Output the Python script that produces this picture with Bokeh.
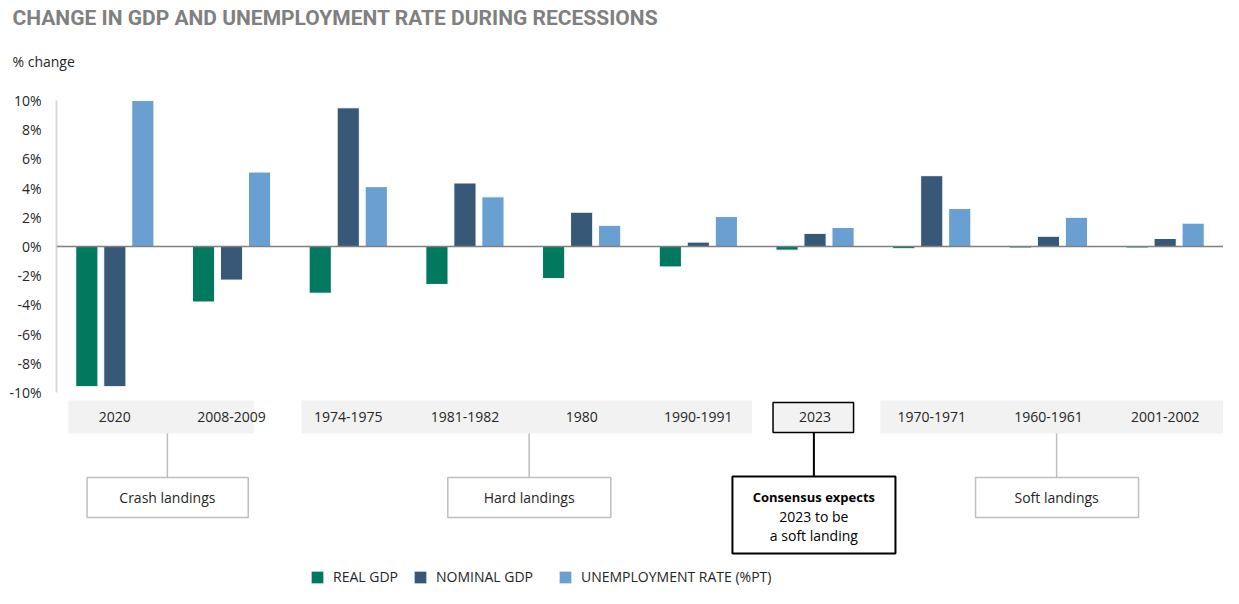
from bokeh.plotting import figure
from bokeh.models import (ColumnDataSource, Range1d, FixedTicker, PrintfTickFormatter,
                          Span, Legend, LegendItem, Title)
from bokeh.transform import dodge
from bokeh.core.properties import value
from bokeh.embed import file_html
from bokeh.resources import INLINE

# ---------------- data ----------------
categories = ["2020", "2008-2009", "1974-1975", "1981-1982", "1980",
              "1990-1991", "2023", "1970-1971", "1960-1961", "2001-2002"]
real_gdp = [-9.6, -3.8, -3.2, -2.6, -2.2, -1.4, -0.25, -0.15, -0.1, -0.1]
nominal_gdp = [-9.6, -2.3, 9.5, 4.35, 2.35, 0.3, 0.9, 4.85, 0.7, 0.55]
unemployment = [10.0, 5.1, 4.1, 3.4, 1.45, 2.05, 1.3, 2.6, 2.0, 1.6]
series_labels = ["REAL GDP", "NOMINAL GDP", "UNEMPLOYMENT RATE (%PT)"]
y_ticks = [-10, -8, -6, -4, -2, 0, 2, 4, 6, 8, 10]
group_labels = ["Crash landings", "Hard landings", "Soft landings"]
note_lines = ["Consensus expects", "2023 to be", "a soft landing"]

TITLE = "CHANGE IN GDP AND UNEMPLOYMENT RATE DURING RECESSIONS"
Y_LABEL = "% change"

# ---------------- style ----------------
GREEN = "#00795F"
NAVY = "#375877"
LIGHT = "#6A9FD2"
FONT = "Open Sans"
TXT = "#262626"

W, H = 1223, 588
LEFT = 56
TOP = 88
px_per_unit = 14.6
zero_px = 246
y_top = (zero_px - TOP) / px_per_unit
y_bot = -(H - zero_px) / px_per_unit

x_pos = [i + 0.5 for i in range(len(categories))]
src = ColumnDataSource(dict(x=x_pos, cat=categories, real=real_gdp,
                            nominal=nominal_gdp, unemp=unemployment))

p = figure(width=W, height=H, output_backend="svg", toolbar_location=None,
           x_range=Range1d(0, len(categories)), y_range=Range1d(y_bot, y_top),
           x_axis_location=None, min_border_left=LEFT, min_border_right=0,
           min_border_top=TOP, min_border_bottom=0, outline_line_color=None)
p.grid.grid_line_color = None

# titles (added closest-first)
p.add_layout(Title(text=Y_LABEL, text_font=FONT, text_font_size="14px",
                   text_font_style="normal", text_color=TXT, align="left",
                   offset=-(LEFT - 12), standoff=36), "above")
p.add_layout(Title(text=TITLE, text_font="Roboto", text_font_size="21px",
                   text_font_style="bold", text_color="#808080", align="left",
                   offset=-(LEFT - 12), standoff=3), "above")

# y axis
ax = p.yaxis[0]
ax.ticker = FixedTicker(ticks=y_ticks)
ax.formatter = PrintfTickFormatter(format="%d%%")
ax.bounds = (-10, 10)
ax.axis_line_color = "#D9D9D9"
ax.axis_line_width = 2
ax.major_tick_line_color = None
ax.minor_tick_line_color = None
ax.major_tick_out = 0
ax.major_label_standoff = 15
ax.major_label_text_font = FONT
ax.major_label_text_font_size = "14px"
ax.major_label_text_color = TXT

# bars
bw = 0.19
r1 = p.vbar(x=dodge("x", -0.24, range=p.x_range), top="real", bottom=0, width=bw,
            source=src, fill_color=GREEN, line_color="white", line_width=1)
r2 = p.vbar(x=dodge("x", 0.0, range=p.x_range), top="nominal", bottom=0, width=bw,
            source=src, fill_color=NAVY, line_color="white", line_width=1)
r3 = p.vbar(x=dodge("x", 0.24, range=p.x_range), top="unemp", bottom=0, width=bw,
            source=src, fill_color=LIGHT, line_color="white", line_width=1)

p.add_layout(Span(location=0, dimension="width", line_color="#808080", line_width=1.5))

# category bands
p.quad(left=[0.10, 2.10, 7.06], right=[1.69, 5.96, 10.0], top=-10.55, bottom=-12.81,
       fill_color="#F2F2F2", line_color=None)
p.quad(left=[6.14], right=[6.83], top=-10.68, bottom=-12.74,
       fill_color="#F2F2F2", line_color="black", line_width=1.5)
p.text(x="x", y=-11.7, text="cat", source=src, text_font=value(FONT),
       text_font_size="14px", text_color=TXT, text_align="center",
       text_baseline="middle")

# landing group boxes
gx = [0.95, 4.05, 8.57]
p.segment(x0=gx, y0=-12.81, x1=gx, y1=-15.82, line_color="#BFBFBF", line_width=1.5)
p.quad(left=[0.262, 3.353, 7.875], right=[1.643, 4.750, 9.272], top=-15.82,
       bottom=-18.56, fill_color="white", line_color="#BFBFBF", line_width=1.5)
p.text(x=gx, y=-17.19, text=group_labels, text_font=value(FONT),
       text_font_size="14px", text_color=TXT, text_align="center",
       text_baseline="middle")

# consensus note
cx = 6.49
p.segment(x0=[cx], y0=-12.74, x1=[cx], y1=-15.75, line_color="black", line_width=2)
p.quad(left=[5.792], right=[7.189], top=-15.75, bottom=-21.03,
       fill_color="white", line_color="black", line_width=2)
p.text(x=[cx], y=[-17.19], text=note_lines[:1], text_font=value(FONT),
       text_font_size="13px", text_font_style="bold", text_color="black",
       text_align="center", text_baseline="middle")
p.text(x=[cx, cx], y=[-18.49, -19.79], text=note_lines[1:], text_font=value(FONT),
       text_font_size="14px", text_color="black", text_align="center",
       text_baseline="middle")

# legends
for r, lab, xloc in zip([r1, r2, r3], series_labels, [253, 356, 501]):
    lg = Legend(items=[LegendItem(label=lab, renderers=[r])], location=(xloc, 2),
                orientation="horizontal", border_line_color=None,
                background_fill_alpha=0, padding=0, margin=0, spacing=0,
                glyph_width=16, glyph_height=16, label_height=16,
                label_standoff=8, label_text_font=FONT,
                label_text_font_size="14px", label_text_color=TXT)
    p.add_layout(lg)

open("out.html", "w").write(file_html(p, INLINE))
